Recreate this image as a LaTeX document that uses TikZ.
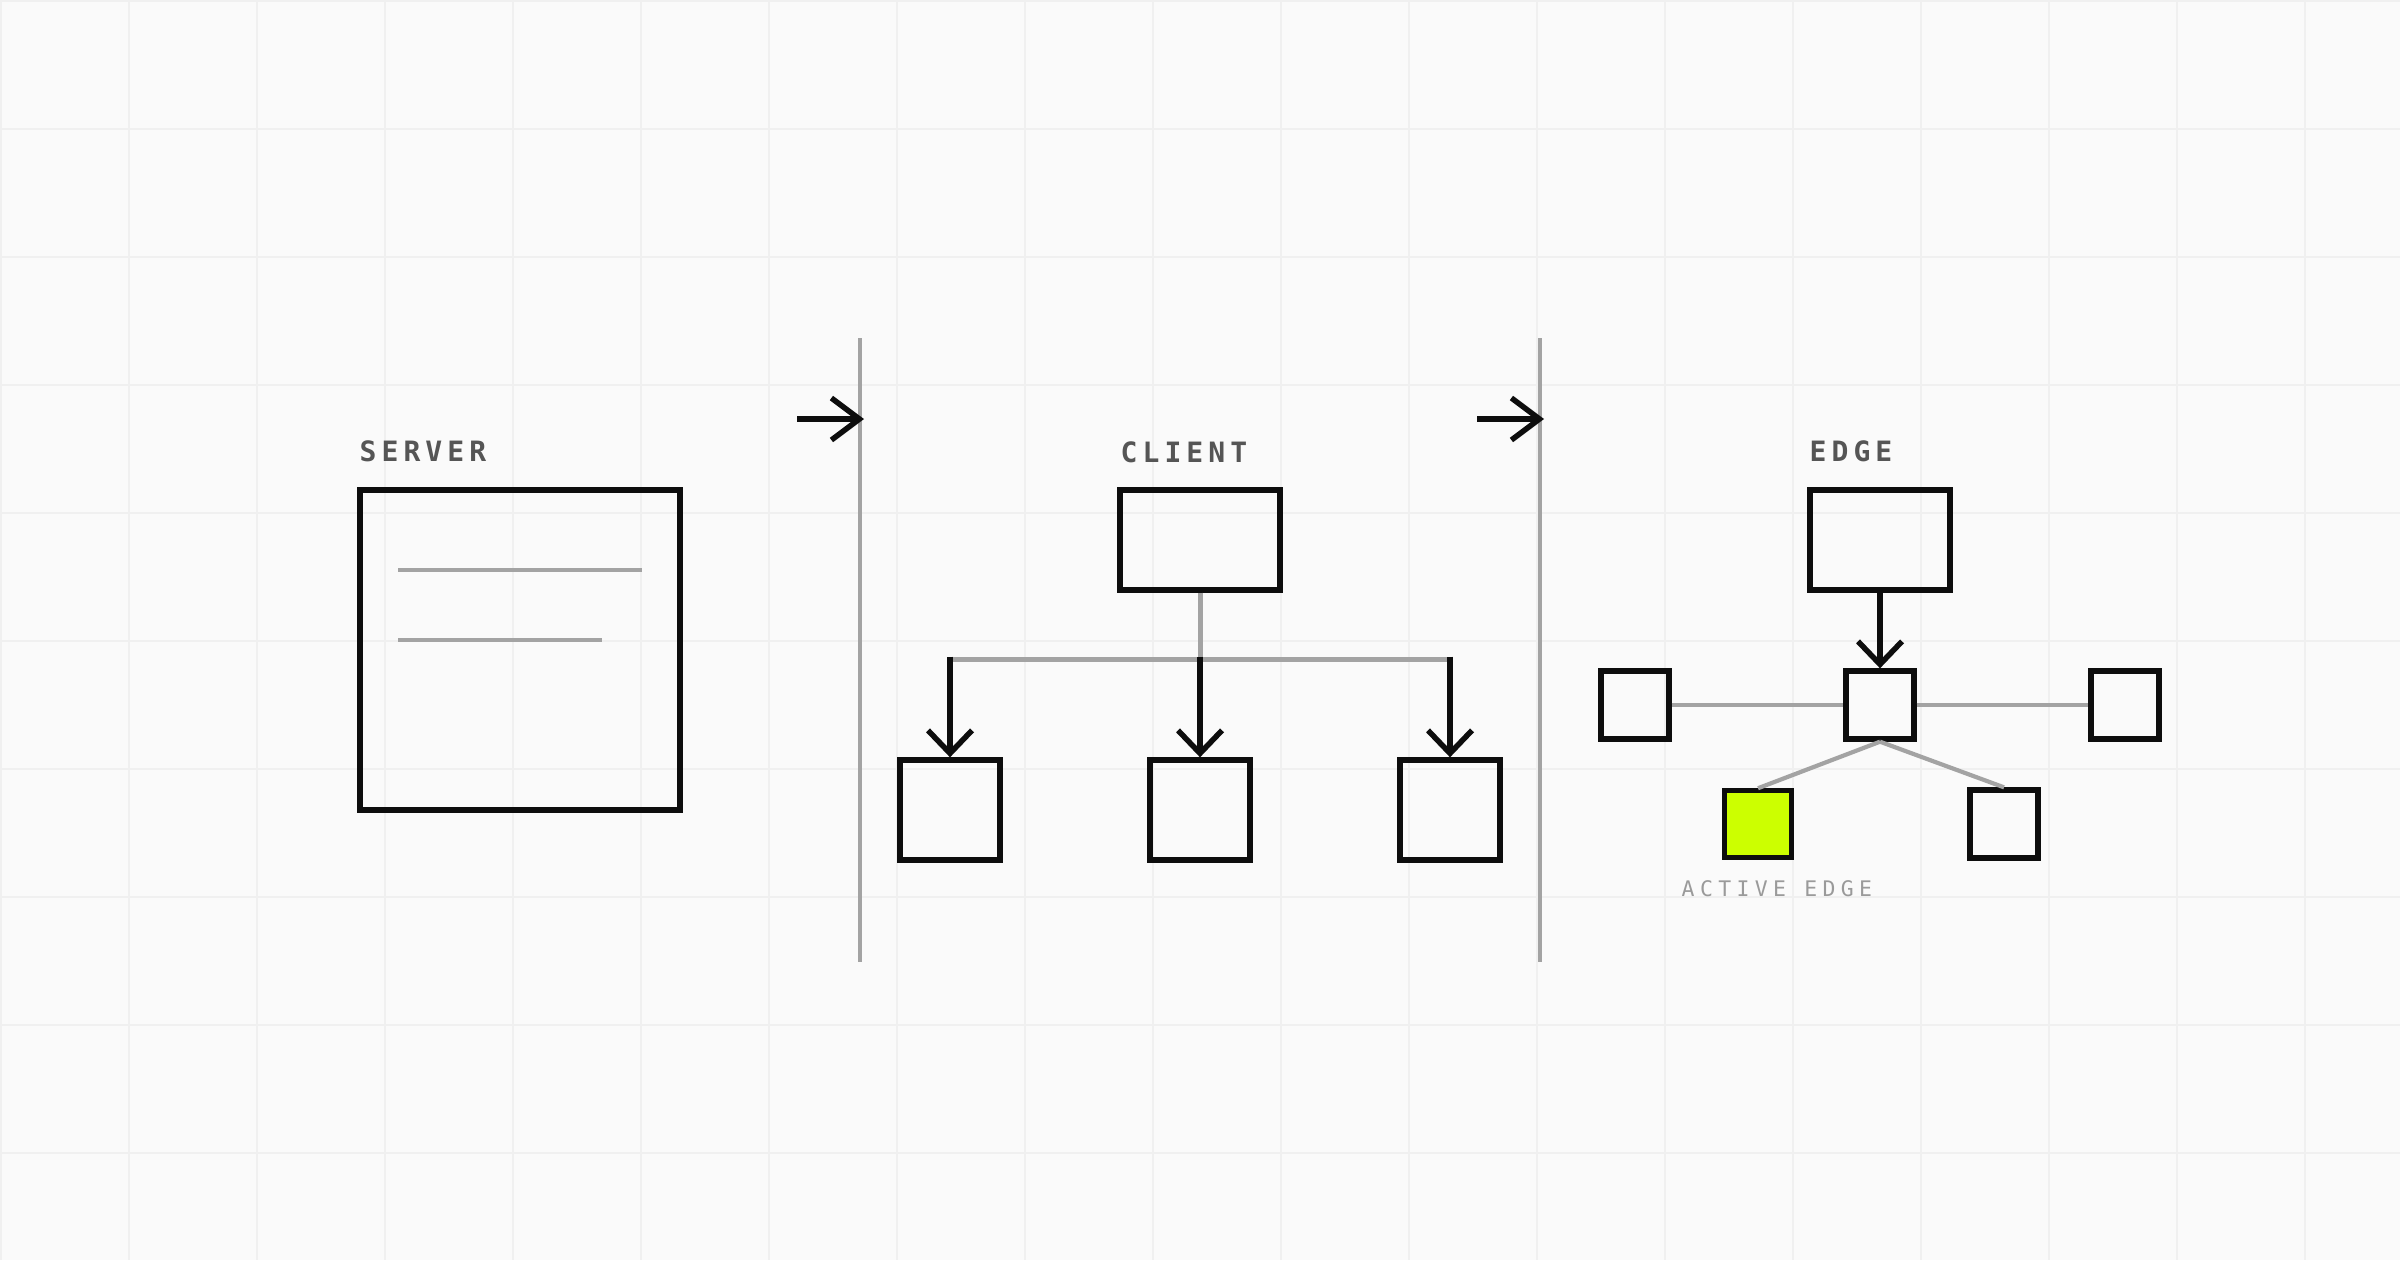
\documentclass[tikz,border=0pt]{standalone}
\usepackage{fontspec}
\usetikzlibrary{arrows.meta}
\newfontfamily\titlefont[LetterSpace=18]{DejaVu Sans Mono}
\newfontfamily\notefont[LetterSpace=25]{DejaVu Sans Mono}
\definecolor{paper}{HTML}{FAFAFA}
\definecolor{gridline}{HTML}{F0F0F0}
\definecolor{ink}{HTML}{0D0D0D}
\definecolor{wire}{HTML}{A3A3A3}
\definecolor{titlegray}{HTML}{555555}
\definecolor{notegray}{HTML}{9A9A9A}
\definecolor{lime}{HTML}{CCFF00}
\tikzset{
	box/.style={draw=ink, line width=0.053cm, inner sep=0pt},
	wirel/.style={draw=wire, line width=0.042cm},
	divider/.style={draw=wire, line width=0.033cm},
	arrh/.style={draw=ink, line width=0.055cm, -{Straight Barb[length=0.28cm, width=0.42cm, sharp]}},
	arrv/.style={draw=ink, line width=0.055cm, -{Straight Barb[length=0.23cm, width=0.44cm, sharp]}},
	title/.style={anchor=base west, inner sep=0pt, text=titlegray, font={\titlefont\bfseries\fontsize{7.97pt}{9pt}\selectfont}},
	note/.style={anchor=base west, inner sep=0pt, text=notegray, font={\notefont\fontsize{6.1pt}{7pt}\selectfont}}
}
\begin{document}
\begin{tikzpicture}[x=0.01cm, y=-0.01cm]
				\useasboundingbox (0,0) rectangle (2400,1260);
				%%paper and grid
				\fill[paper] (0,0) rectangle (2400,1260);
				\foreach \gx in {1,129,...,2305}
					\draw[gridline, line width=0.02cm] (\gx,0) to (\gx,1260);
				\foreach \gy in {1,129,...,1153}
					\draw[gridline, line width=0.02cm] (0,\gy) to (2400,\gy);

				%%server
				\node[box, minimum width=3.2cm, minimum height=3.2cm] (server) at (520,650) {};
				\node[title] (servertitle) at (359,461) {SERVER};
				\draw[wire, line width=0.042cm] (398,570) to (642,570);
				\draw[wire, line width=0.042cm] (398,640) to (602,640);

				%%first divider
				\coordinate (divAtop) at (860,338);
				\coordinate (divAbot) at (860,962);
				\draw[divider] (divAtop) to (divAbot);
				\coordinate (inA) at (797,419);
				\coordinate (tipA) at (864,419);
				\draw[arrh] (inA) to (tipA);

				%%client
				\node[box, minimum width=1.6cm, minimum height=1cm] (client) at (1200,540) {};
				\node[title] (clienttitle) at (1120,462) {CLIENT};
				\node[box, minimum size=1cm] (cA) at (950,810) {};
				\node[box, minimum size=1cm] (cB) at (1200,810) {};
				\node[box, minimum size=1cm] (cC) at (1450,810) {};
				\coordinate (jA) at (950,659);
				\coordinate (jB) at (1200,659);
				\coordinate (jC) at (1450,659);
				\draw[wirel, line width=0.05cm] (client.south) to (jB);
				\draw[wirel, line width=0.05cm] (jA) to (jC);
				\foreach \j/\c in {jA/cA, jB/cB, jC/cC}
					\draw[arrv] ([yshift=0.025cm]\j) to (\c.north);

				%%second divider
				\coordinate (divBtop) at (1540,338);
				\coordinate (divBbot) at (1540,962);
				\draw[divider] (divBtop) to (divBbot);
				\coordinate (inB) at (1477,419);
				\coordinate (tipB) at (1544,419);
				\draw[arrh] (inB) to (tipB);

				%%edge
				\node[box, minimum width=1.4cm, minimum height=1cm] (edge) at (1880,540) {};
				\node[title] (edgetitle) at (1809,461) {EDGE};
				\node[box, minimum size=0.68cm] (hub) at (1880,705) {};
				\node[box, minimum size=0.68cm] (eL) at (1635,705) {};
				\node[box, minimum size=0.68cm] (eR) at (2125,705) {};
				\node[box, minimum size=0.68cm] (eLR) at (2004,824) {};
				\node[box, fill=lime, line width=0.045cm, minimum size=0.67cm] (active) at (1758,824) {};
				\draw[arrv] (edge.south) to (hub.north);
				\draw[wirel] (eL.east) to (hub.west);
				\draw[wirel] (hub.east) to (eR.west);
				\draw[wirel] (hub.south) to (active.north);
				\draw[wirel] (hub.south) to (eLR.north);
				\node[note] (activelabel) at (1681,896) {ACTIVE EDGE};
			\end{tikzpicture}
\end{document}
